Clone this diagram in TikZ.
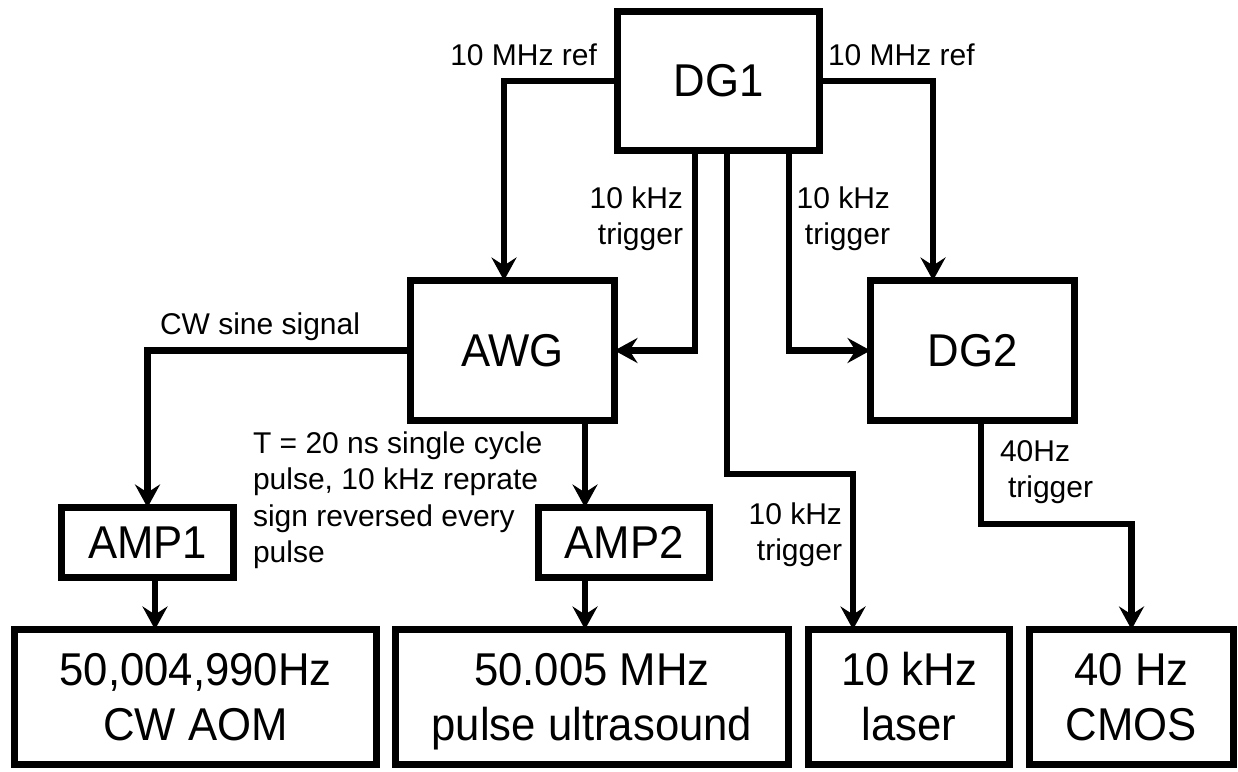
\documentclass[tikz,border=0pt]{standalone}
\usepackage{fontspec}
\setmainfont{Liberation Sans}
\newfontfamily\bigfont[FakeStretch=0.95]{Liberation Sans}
\usetikzlibrary{arrows.meta}
\begin{document}
\begin{tikzpicture}[x=1pt,y=-1pt,
  box/.style={draw, line width=6.5pt, rectangle, inner sep=0pt, outer sep=0pt,
    font=\bigfont\fontsize{46pt}{55pt}\selectfont, align=center},
  lbl/.style={font=\fontsize{30pt}{36.5pt}\selectfont, inner sep=0pt, outer sep=0pt},
  conn/.style={line width=6.5pt, -{Stealth[length=23pt,width=25pt,inset=8pt]}}
]
\useasboundingbox (0,0) rectangle (1238,771);
% boxes
\node[box, minimum width=202pt, minimum height=139pt] (dg1) at (718.5,81) {DG1};
\node[box, minimum width=204pt, minimum height=140pt] (awg) at (512.5,350.5) {AWG};
\node[box, minimum width=204pt, minimum height=140pt] (dg2) at (972.5,350.5) {DG2};
\node[box, minimum width=172pt, minimum height=70pt] (amp1) at (147.5,542.5) {AMP1};
\node[box, minimum width=171pt, minimum height=70pt] (amp2) at (624,542.5) {AMP2};
\node[box, minimum width=362pt, minimum height=135pt] (aom) at (195.5,697) {50,004,990Hz\\CW AOM};
\node[box, minimum width=393pt, minimum height=135pt] (us) at (592,697) {50.005 MHz\\\smash{pulse ultrasound}};
\node[box, minimum width=201pt, minimum height=135pt] (laser) at (909,697) {10 kHz\\laser};
\node[box, minimum width=204pt, minimum height=135pt] (cmos) at (1131.5,697) {40 Hz\\CMOS};
% connectors
\draw[conn] (dg1.west) -| ([xshift=-8.5pt]awg.north);
\draw[conn] (dg1.east) -| ([xshift=-39.5pt]dg2.north);
\draw[conn] ([xshift=-23.5pt]dg1.south) |- (awg.east);
\draw[conn] ([xshift=70.5pt]dg1.south) |- (dg2.west);
\draw[conn] ([xshift=8.5pt]dg1.south) -- ++(0,323.5) -| ([xshift=-56pt]laser.north);
\draw[conn] (awg.west) -| (amp1.north);
\draw[conn] ([xshift=72.5pt]awg.south) -- ([xshift=-39pt]amp2.north);
\draw[conn] ([xshift=7.5pt]amp1.south) -- ([xshift=-40.5pt]aom.north);
\draw[conn] ([xshift=-39pt]amp2.south) -- ([xshift=-7pt]us.north);
\draw[conn] ([xshift=8.5pt]dg2.south) -- ++(0,103.5) -| (cmos.north);
% labels
\node[lbl, anchor=base east] (lref) at (597,65) {10 MHz ref};
\node[lbl, anchor=base west] (rref) at (828,65) {10 MHz ref};
\node[lbl, anchor=north east, align=right] (trigA) at (683,186.5) {10 kHz\\trigger};
\node[lbl, anchor=north east, align=right] (trigB) at (890,186.5) {10 kHz\\trigger};
\node[lbl, anchor=north east, align=right] (trigC) at (842,502.5) {10 kHz\\trigger};
\node[lbl, anchor=north west, align=left] (trigD) at (1000,440.5) {40Hz\\\hspace*{8pt}trigger};
\node[lbl, anchor=base west] (cw) at (160,334) {CW sine signal};
\node[lbl, anchor=north west, align=left] (pulse) at (253,431.5) {T = 20 ns single cycle\\pulse, 10 kHz reprate\\sign reversed every\\pulse};
\end{tikzpicture}
\end{document}
